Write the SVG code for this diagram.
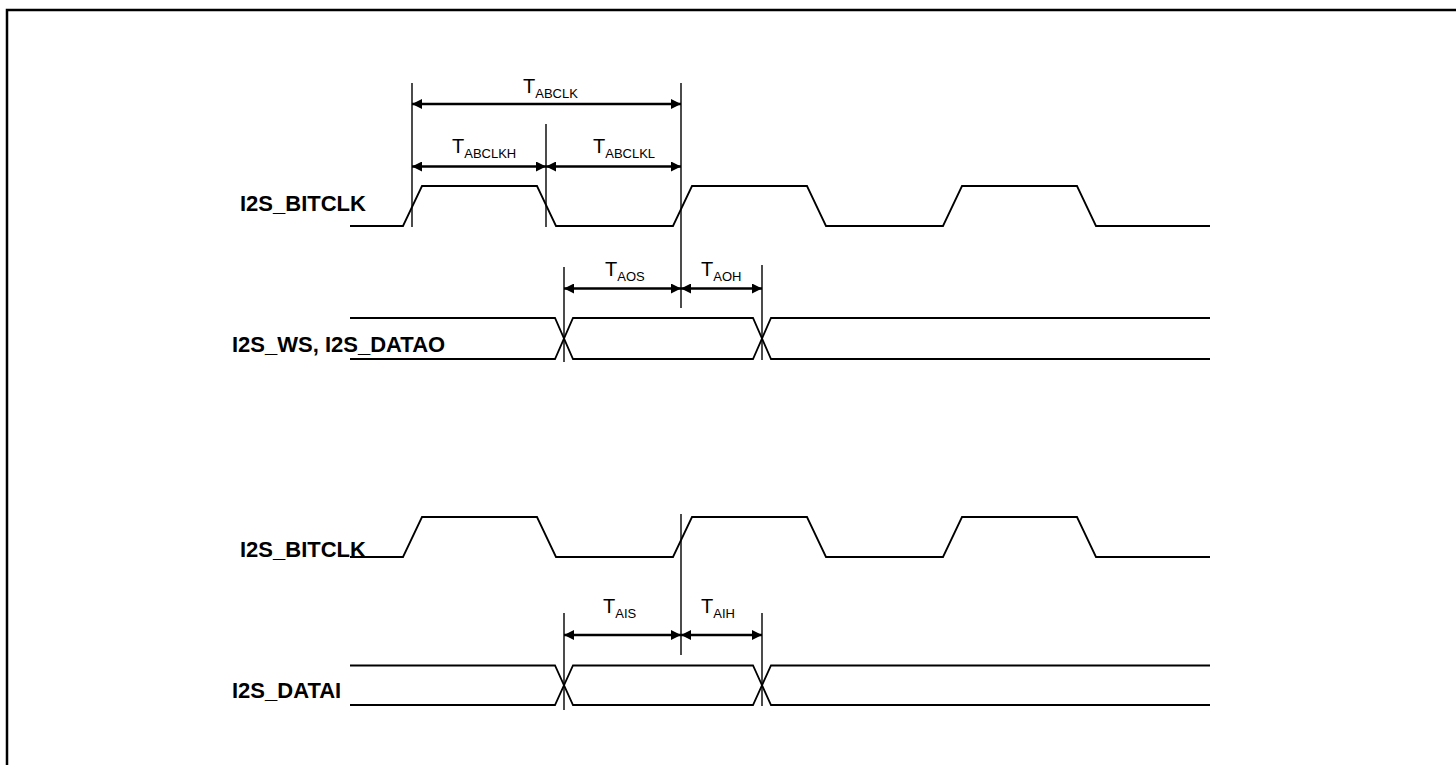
<svg xmlns="http://www.w3.org/2000/svg" width="1456" height="765" viewBox="0 0 1456 765">
<defs>
<marker id="ah" viewBox="0 0 10 10" refX="10" refY="5" markerWidth="10" markerHeight="10" markerUnits="userSpaceOnUse" orient="auto-start-reverse">
<path d="M0,0 L10,5 L0,10 Z" fill="#000"/>
</marker>
<style>
.frame{fill:none;stroke:#000;stroke-width:2.5}
.wave{fill:none;stroke:#000;stroke-width:1.8;stroke-linejoin:miter}
.ext{fill:none;stroke:#000;stroke-width:1.4}
.dim{fill:none;stroke:#000;stroke-width:2.5;marker-start:url(#ah);marker-end:url(#ah)}
.sig{font-family:"Liberation Sans",Arial,sans-serif;font-weight:bold;font-size:22px;fill:#000}
.tl{font-family:"Liberation Sans",Arial,sans-serif;font-size:20px;fill:#000}
.sub{font-size:13px}
</style>
</defs>
<rect width="1456" height="765" fill="#fff"/>
<path class="frame" d="M7,765 V10 H1456"/>

<g id="sig-bitclk-top">
<text class="sig" x="240" y="211">I2S_BITCLK</text>
<path class="wave" d="M350,226 H403 L422,186 H537 L556,226 H673 L692,186 H807 L826,226 H943 L962,186 H1077 L1096,226 H1210"/>
</g>
<g id="sig-ws-datao">
<text class="sig" x="232" y="352">I2S_WS, I2S_DATAO</text>
<path class="wave" d="M350,318 H555 L573,359 H753 L771,318 H1210"/>
<path class="wave" d="M350,359 H555 L573,318 H753 L771,359 H1210"/>
</g>
<g id="sig-bitclk-bottom">
<text class="sig" x="240" y="557">I2S_BITCLK</text>
<path class="wave" d="M350,557 H403 L422,517 H537 L556,557 H673 L692,517 H807 L826,557 H943 L962,517 H1077 L1096,557 H1210"/>
</g>
<g id="sig-datai">
<text class="sig" x="232" y="698">I2S_DATAI</text>
<path class="wave" d="M350,665.5 H555 L573,705 H753 L771,665.5 H1210"/>
<path class="wave" d="M350,705 H555 L573,665.5 H753 L771,705 H1210"/>
</g>

<g id="connectors">
<path class="ext" d="M412,83 V227 M546,124 V227 M681,83 V308 M564,267 V362 M762,265 V360"/>
<path class="ext" d="M681,514 V655 M564,613 V710 M762,613 V706"/>
<line class="dim" x1="412" y1="104" x2="681" y2="104"/>
<line class="dim" x1="412" y1="166.5" x2="546" y2="166.5"/>
<line class="dim" x1="546" y1="166.5" x2="681" y2="166.5"/>
<line class="dim" x1="564" y1="288.5" x2="681" y2="288.5"/>
<line class="dim" x1="681" y1="288.5" x2="762" y2="288.5"/>
<line class="dim" x1="564" y1="635" x2="681" y2="635"/>
<line class="dim" x1="681" y1="635" x2="762" y2="635"/>
</g>

<g id="timing-labels">
<text class="tl" x="523" y="93">T<tspan class="sub" dy="5">ABCLK</tspan></text>
<text class="tl" x="452" y="153">T<tspan class="sub" dy="5">ABCLKH</tspan></text>
<text class="tl" x="593" y="153">T<tspan class="sub" dy="5">ABCLKL</tspan></text>
<text class="tl" x="605" y="276">T<tspan class="sub" dy="5">AOS</tspan></text>
<text class="tl" x="701" y="276">T<tspan class="sub" dy="5">AOH</tspan></text>
<text class="tl" x="603" y="613">T<tspan class="sub" dy="5">AIS</tspan></text>
<text class="tl" x="701" y="613">T<tspan class="sub" dy="5">AIH</tspan></text>
</g>
</svg>
